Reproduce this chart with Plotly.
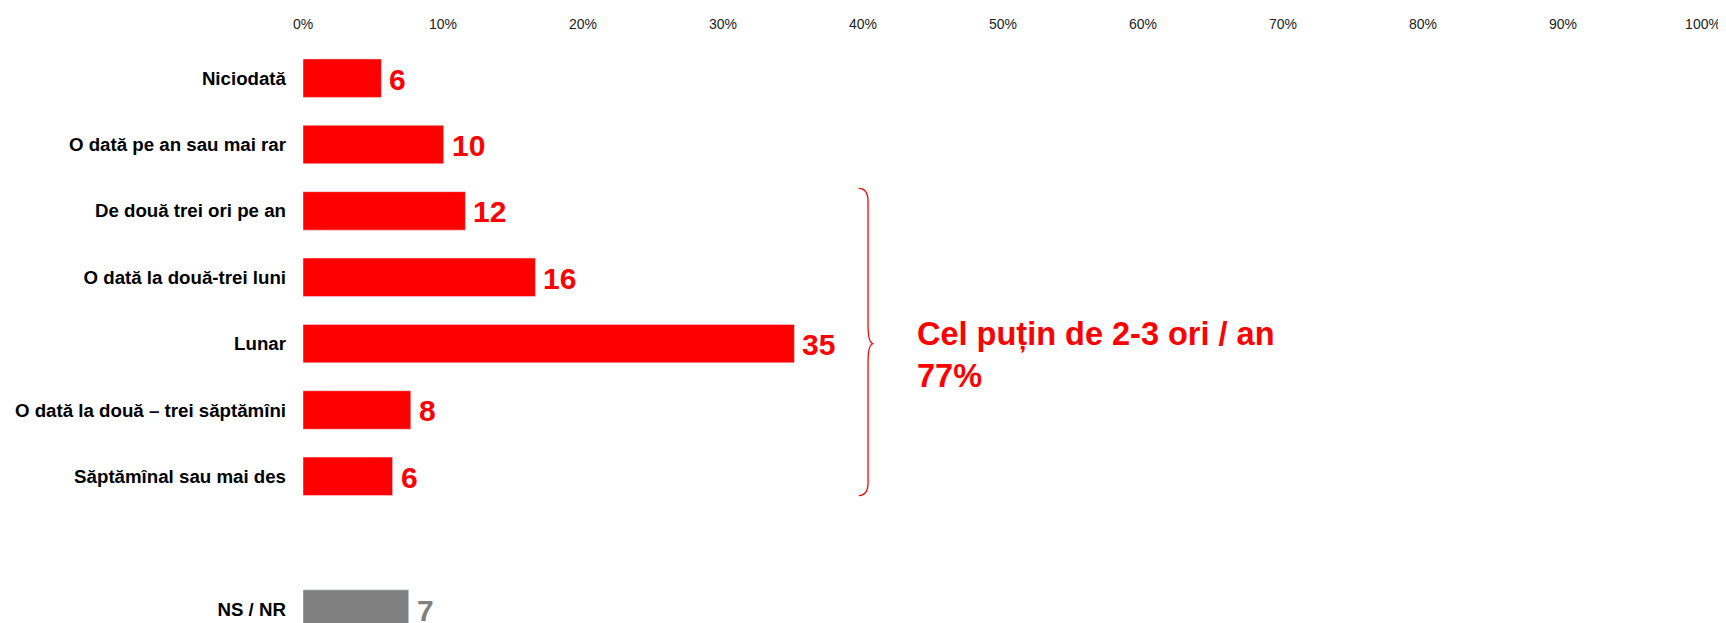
import plotly.graph_objects as go

# ---- data ----
categories = [
    "Niciodată",
    "O dată pe an sau mai rar",
    "De două trei ori pe an",
    "O dată la două-trei luni",
    "Lunar",
    "O dată la două – trei săptămîni",
    "Săptămînal sau mai des",
]
values = [5.6, 10.05, 11.6, 16.6, 35.1, 7.7, 6.4]
value_labels = ["6", "10", "12", "16", "35", "8", "6"]

nsnr_categories = ["NS / NR"]
nsnr_values = [7.55]
nsnr_labels = ["7"]

x_ticks = [0, 10, 20, 30, 40, 50, 60, 70, 80, 90, 100]
x_tick_labels = ["0%", "10%", "20%", "30%", "40%", "50%", "60%", "70%", "80%", "90%", "100%"]

group_first = "De două trei ori pe an"
group_last = "Săptămînal sau mai des"
group_mid = "Lunar"
group_text = "Cel puțin de 2-3 ori / an<br>77%"

# ---- style ----
RED = "#FF0000"
GREY = "#808080"
FONT = "Liberation Sans, Arial, sans-serif"
BAR_W = 0.58
spacer = " "
cat_order = categories + [spacer] + nsnr_categories

fig = go.Figure()
fig.add_trace(go.Bar(x=values, y=categories, orientation="h", marker_color=RED,
                     width=BAR_W, hoverinfo="skip"))
fig.add_trace(go.Bar(x=nsnr_values, y=nsnr_categories, orientation="h", marker_color=GREY,
                     width=BAR_W, hoverinfo="skip"))

annotations = []
for v, c, t in zip(values, categories, value_labels):
    annotations.append(dict(x=v, y=c, text=t, showarrow=False, xanchor="left", yanchor="middle",
                            xshift=6, yshift=-1,
                            font=dict(family=FONT, size=30, color=RED, weight="bold")))
for v, c, t in zip(nsnr_values, nsnr_categories, nsnr_labels):
    annotations.append(dict(x=v, y=c, text=t, showarrow=False, xanchor="left", yanchor="middle",
                            xshift=6, yshift=-1,
                            font=dict(family=FONT, size=30, color=GREY, weight="bold")))

# brace around the group
i_top = cat_order.index(group_first) - BAR_W / 2 - 0.05
i_bot = cat_order.index(group_last) + BAR_W / 2
i_mid = cat_order.index(group_mid)
bx, bcurl, btip = 40.36, 39.7, 40.75
path = (f"M {bcurl},{i_top} Q {bx},{i_top} {bx},{i_top+0.2} "
        f"L {bx},{i_mid-0.28} Q {bx},{i_mid} {btip},{i_mid} "
        f"Q {bx},{i_mid} {bx},{i_mid+0.28} "
        f"L {bx},{i_bot-0.2} Q {bx},{i_bot} {bcurl},{i_bot}")
fig.add_shape(type="path", path=path, xref="x", yref="y",
              line=dict(color=RED, width=1.3))

annotations.append(dict(x=43.7, y=i_mid + 0.17, xref="x", yref="y", text=group_text,
                        showarrow=False, xanchor="left", yanchor="middle", align="left",
                        font=dict(family=FONT, size=32.5, color=RED, weight="bold")))

# the page body has an 8px default margin; size the figure so it fills the rest
fig.update_layout(
    width=1718, height=615,
    margin=dict(l=295, r=23, t=37, b=0, autoexpand=False),
    plot_bgcolor="white", paper_bgcolor="white",
    showlegend=False, barmode="overlay",
    annotations=annotations,
    font=dict(family=FONT),
)
fig.update_xaxes(side="top", range=[0, 100], tickvals=x_ticks, ticktext=x_tick_labels,
                 showgrid=False, zeroline=False, showline=False, ticks="",
                 tickfont=dict(family=FONT, size=14, color="#222222"),
                 ticklabelstandoff=12, fixedrange=True, automargin=False)
fig.update_yaxes(type="category", categoryorder="array", categoryarray=cat_order,
                 range=[8.21, -0.5], showgrid=False, zeroline=False, showline=False,
                 ticks="", ticklabelstandoff=16,
                 tickfont=dict(family=FONT, size=18.7, color="black", weight="bold"),
                 fixedrange=True, automargin=False)

fig.write_html("out.html")
